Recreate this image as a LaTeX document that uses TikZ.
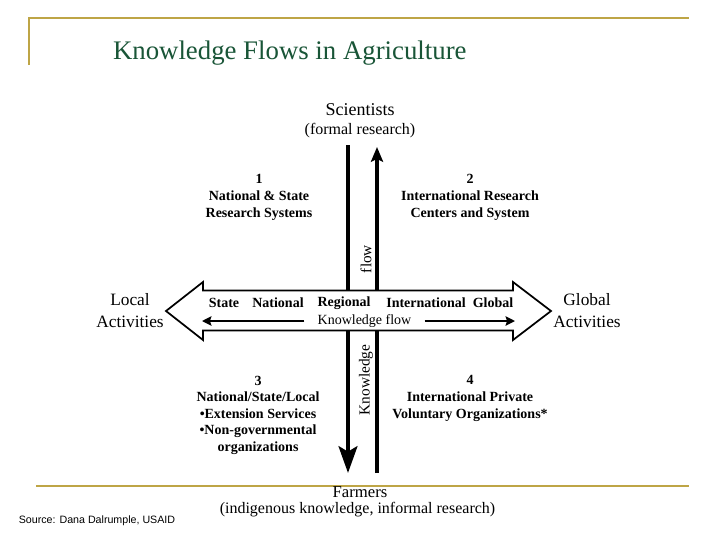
\documentclass[tikz,border=0pt]{standalone}
\usepackage{fontspec}
\setmainfont{Liberation Serif}
\setsansfont{Liberation Sans}
\usetikzlibrary{arrows.meta}
\definecolor{gold}{RGB}{190,165,70}
\definecolor{ttl}{RGB}{25,85,55}
\begin{document}
\begin{tikzpicture}[x={(0.75pt,0)}, y={(0,-0.75pt)},
  every node/.style={inner sep=0pt, outer sep=0pt},
  frameline/.style={gold, line width=1.4pt},
  rmtext/.style={font=\fontsize{13}{16.5}\selectfont, align=center},
  bdtext/.style={font=\fontsize{10.5}{12.75}\selectfont\bfseries, align=center},
  smtext/.style={font=\fontsize{10.5}{12}\selectfont},
  rottext/.style={font=\fontsize{11.5}{12}\selectfont, rotate=90},
  bar/.style={line width=3.3pt},
  thinarr/.style={line width=2.2pt, -{Stealth[length=7pt, width=7pt, inset=1pt]}},
  bigarrow/.style={draw=black, fill=white, line width=1.3pt, line join=miter}]
\useasboundingbox (0,0) rectangle (720,540);
% frame
\draw[frameline] (29,65) -- (29,18) -- (689,18);
\draw[frameline] (36,486) -- (689,486);
\node[anchor=base west, text=ttl, font=\fontsize{20.1}{22}\selectfont] (title) at (113,59) {Knowledge Flows in Agriculture};
% top labels
\node[rmtext, font=\fontsize{13.5}{16}\selectfont] (sci) at (360,110) {Scientists};
\node[rmtext, font=\fontsize{12}{14}\selectfont] (formal) at (360,131) {(formal research)};
% vertical bars
\coordinate (ltop) at (348,145);
\coordinate (lbot) at (348,473);
\coordinate (rtop) at (377,147);
\coordinate (rbot) at (377,473);
\draw[bar, -{Stealth[length=20pt, width=14pt, inset=4pt]}] (ltop) -- (lbot);
\draw[bar, -{Stealth[length=11pt, width=9pt, inset=2pt]}] (rbot) -- (rtop);
% big double arrow
\path[bigarrow] (166,311) -- (203,282) -- (203,290.5) -- (513,290.5) -- (513,282) -- (551,311)
  -- (513,340) -- (513,330.5) -- (203,330.5) -- (203,340) -- cycle;
% quadrant labels
\node[bdtext] (n1) at (259,197) {1\\National \& State\\Research Systems};
\node[bdtext] (n2) at (470,197) {2\\International Research\\Centers and System};
\node[bdtext, font=\fontsize{10.5}{12.4}\selectfont\bfseries] (n3) at (258,415) {3\\National/State/Local\\•Extension Services\\•Non-governmental\\organizations};
\node[bdtext] (n4) at (470,398) {4\\International Private\\Voluntary Organizations*};
% rotated labels
\node[rottext] (flow) at (366,259) {flow};
\node[rottext] (know) at (366,380) {Knowledge};
% side labels
\node[rmtext] (local) at (130,311) {Local\\Activities};
\node[rmtext] (global) at (587,311) {Global\\Activities};
% scale row
\node[bdtext] (sstate) at (224,303) {State};
\node[bdtext] (snat) at (278,303) {National};
\node[bdtext] (sreg) at (344,303) {Regional};
\node[bdtext] (sint) at (426,303) {International};
\node[bdtext] (sglob) at (493,303) {Global};
\node[smtext] (kf) at (364.5,321) {Knowledge flow};
\coordinate (kfl) at (202,321);
\coordinate (kfr) at (515,321);
\draw[thinarr, shorten <=10pt] (kf.west) -- (kfl);
\draw[thinarr, shorten <=10pt] (kf.east) -- (kfr);
% bottom
\node[rmtext, font=\fontsize{12.5}{14}\selectfont] (farm) at (360,492) {Farmers};
\node[rmtext, font=\fontsize{12}{14}\selectfont] (indig) at (357.5,510) {(indigenous knowledge, informal research)};
\node[font=\sffamily\fontsize{8}{10}\selectfont] (src) at (97,521) {Source: Dana Dalrumple, USAID};
\end{tikzpicture}
\end{document}
